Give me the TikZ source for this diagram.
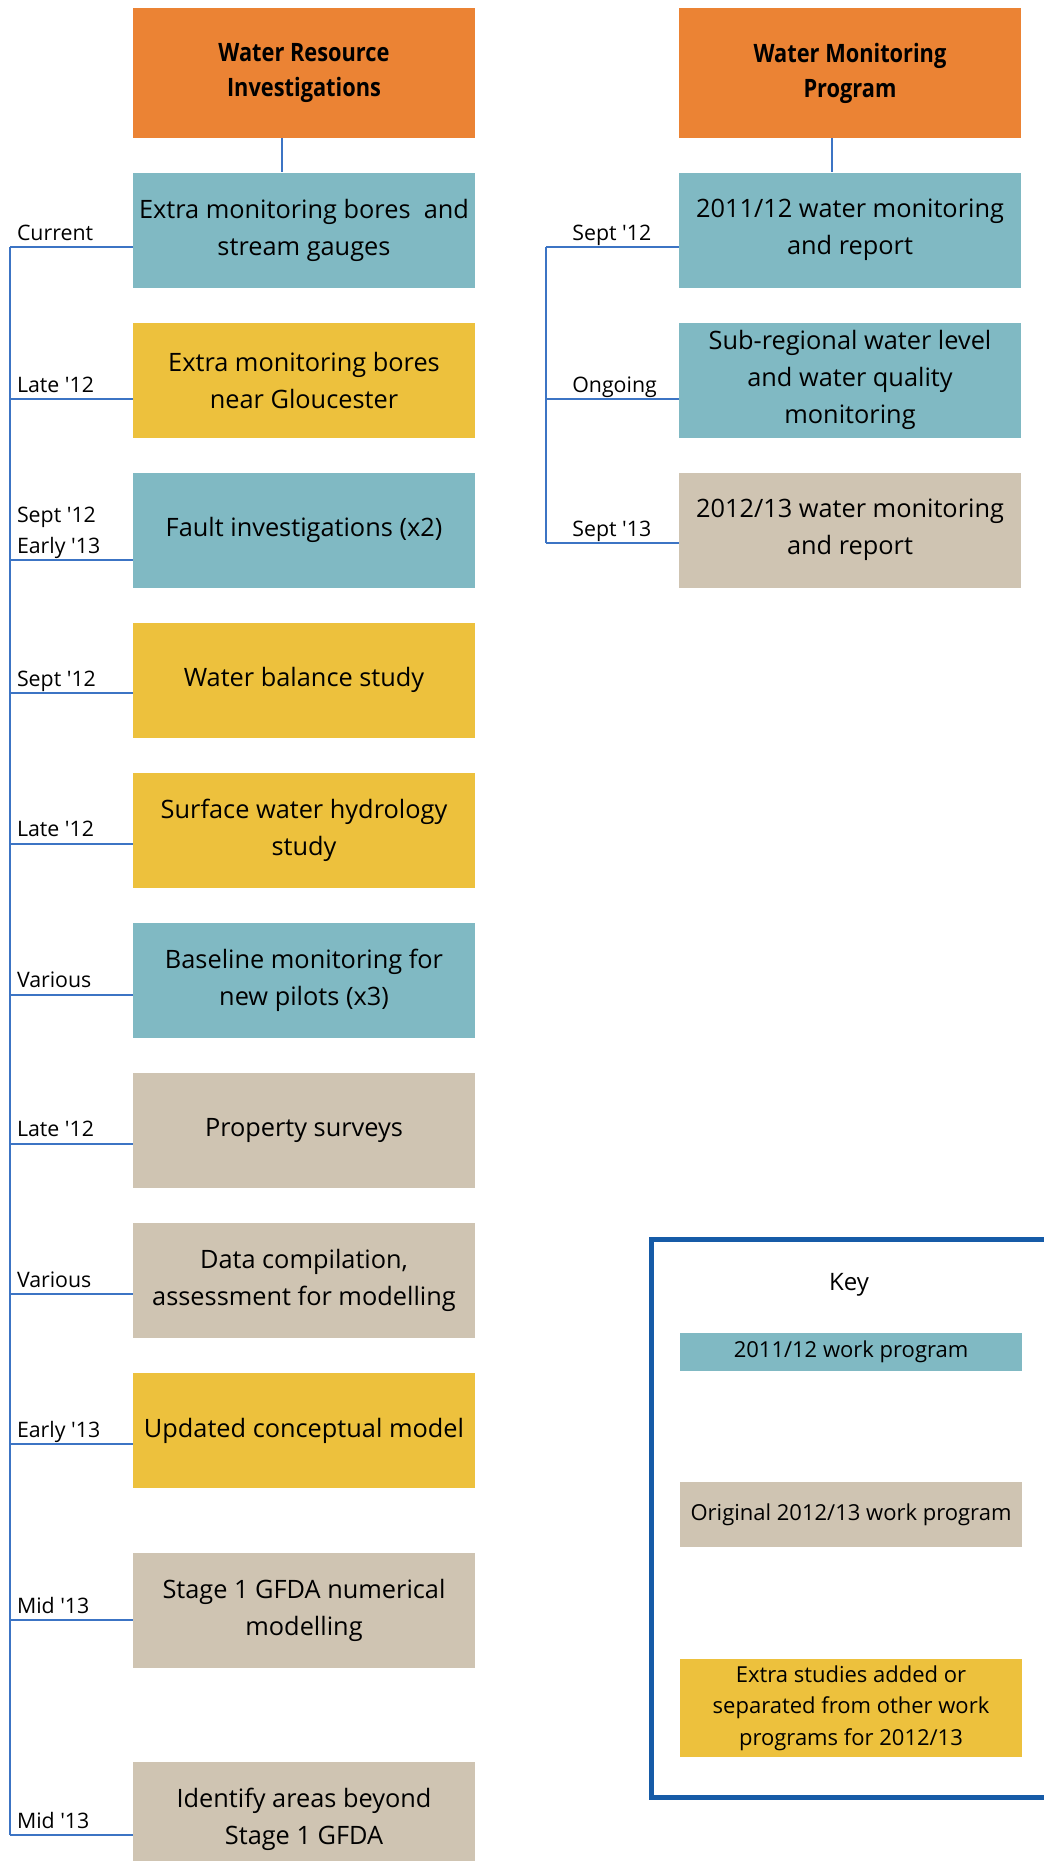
\documentclass[tikz,border=0pt]{standalone}
\usepackage{fontspec}
\setmainfont{Open Sans}
\newfontfamily\headfont[FakeStretch=0.86]{Open Sans}
\usepackage{tikz}
\usetikzlibrary{positioning,calc}
\definecolor{hdOrange}{HTML}{EB8334}
\definecolor{wpTeal}{HTML}{80B9C3}
\definecolor{wpSand}{HTML}{CFC4B2}
\definecolor{wpGold}{HTML}{EDC13D}
\definecolor{lnBlue}{HTML}{3C74C4}
\definecolor{keyBlue}{HTML}{165BA7}

\begin{document}
\begin{tikzpicture}[x=0.75pt,y=-0.75pt,node distance=25.9pt,
    box/.style={minimum width=256.5pt,minimum height=86.25pt,inner sep=2pt,align=center,font=\fontsize{19}{27.75}\selectfont},
    head/.style={box,minimum height=97.5pt,fill=hdOrange,font=\headfont\bfseries\fontsize{19}{26.25}\selectfont},
    keyitem/.style={minimum width=256.5pt,inner sep=1pt,align=center,font=\fontsize{16.5}{23.75}\selectfont},
    when/.style={anchor=base west,inner sep=0pt,align=left,font=\fontsize{16}{23.25}\selectfont},
    link/.style={draw=lnBlue,line width=1.5pt}]
    \path[use as bounding box] (0,0) rectangle (1044,1861);
    \clip (0,0) rectangle (1044,1861);

    % programs
    \node[head] (wri) at (304,73) {Water Resource\\Investigations};
    \node[head] (wmp) at (850,73) {Water Monitoring\\Program};

    % water resource investigations
    \node[box,fill=wpTeal] (r1) at (304,230) {Extra monitoring bores \ and\\stream gauges};
    \node[box,fill=wpGold,below=of r1] (r2) {Extra monitoring bores\\near Gloucester};
    \node[box,fill=wpTeal,below=of r2] (r3) {Fault investigations (x2)};
    \node[box,fill=wpGold,below=of r3] (r4) {Water balance study};
    \node[box,fill=wpGold,below=of r4] (r5) {Surface water hydrology\\study};
    \node[box,fill=wpTeal,below=of r5] (r6) {Baseline monitoring for\\new pilots (x3)};
    \node[box,fill=wpSand,below=of r6] (r7) {Property surveys};
    \node[box,fill=wpSand,below=of r7] (r8) {Data compilation,\\assessment for modelling};
    \node[box,fill=wpGold,below=of r8] (r9) {Updated conceptual model};
    \node[box,fill=wpSand,below=48pt of r9] (r10) {Stage 1 GFDA numerical\\modelling};
    \node[box,fill=wpSand,below=70.5pt of r10] (r11) {Identify areas beyond\\Stage 1 GFDA};

    % water monitoring program
    \node[box,fill=wpTeal] (m1) at (850,230) {2011/12 water monitoring\\and report};
    \node[box,fill=wpTeal,below=of m1] (m2) {Sub-regional water level\\and water quality\\monitoring};
    \node[box,fill=wpSand,below=of m2] (m3) {2012/13 water monitoring\\and report};

    \draw[link] ([xshift=-16.5pt]wri.south) -- ([xshift=-16.5pt]r1.north);
    \draw[link] ([xshift=-13.5pt]wmp.south) -- ([xshift=-13.5pt]m1.north);

    % timelines
    \coordinate (tlL) at (10,0);
    \coordinate (tlR) at (546,0);
    \foreach \b/\dy/\t in {r1/75/Current,r2/77/Late \textquotesingle12,
        r3/88/{Sept \textquotesingle12\\Early \textquotesingle13},r4/71/Sept \textquotesingle12,
        r5/71/Late \textquotesingle12,r6/72/Various,r7/71/Late \textquotesingle12,r8/71/Various,
        r9/71/Early \textquotesingle13,r10/68/Mid \textquotesingle13,r11/73/Mid \textquotesingle13}{
      \path ([yshift=-\dy*0.75pt]\b.north west) coordinate (p\b);
      \draw[link] (p\b -| tlL) node[when,xshift=4.5pt,yshift=5pt] (w\b) {\t} -- (p\b);
    }
    \foreach \b/\dy/\t in {m1/75/Sept \textquotesingle12,m2/77/Ongoing,m3/71/Sept \textquotesingle13}{
      \path ([yshift=-\dy*0.75pt]\b.north west) coordinate (p\b);
      \draw[link] (p\b -| tlR) node[when,xshift=19pt,yshift=5pt] (w\b) {\t} -- (p\b);
    }
    \draw[link] (pr1 -| tlL) -- (pr11 -| tlL);
    \draw[link] (pm1 -| tlR) -- (pm3 -| tlR);

    % key
    \node[draw=keyBlue,line width=3.75pt,anchor=north west,minimum width=330pt,minimum height=418.5pt] (legend) at (649,1237) {};
    \node[anchor=base,font=\fontsize{18}{22}\selectfont] (keyT) at (849,1290) {Key};
    \node[keyitem,fill=wpTeal,minimum height=28.5pt] (k1) at (851,1352) {2011/12 work program};
    \node[keyitem,fill=wpSand,minimum height=48.75pt] (k2) at (851,1514.5) {Original 2012/13 work program};
    \node[keyitem,fill=wpGold,minimum height=73.5pt] (k3) at (851,1708) {Extra studies added or\\separated from other work\\programs for 2012/13};
\end{tikzpicture}
\end{document}
